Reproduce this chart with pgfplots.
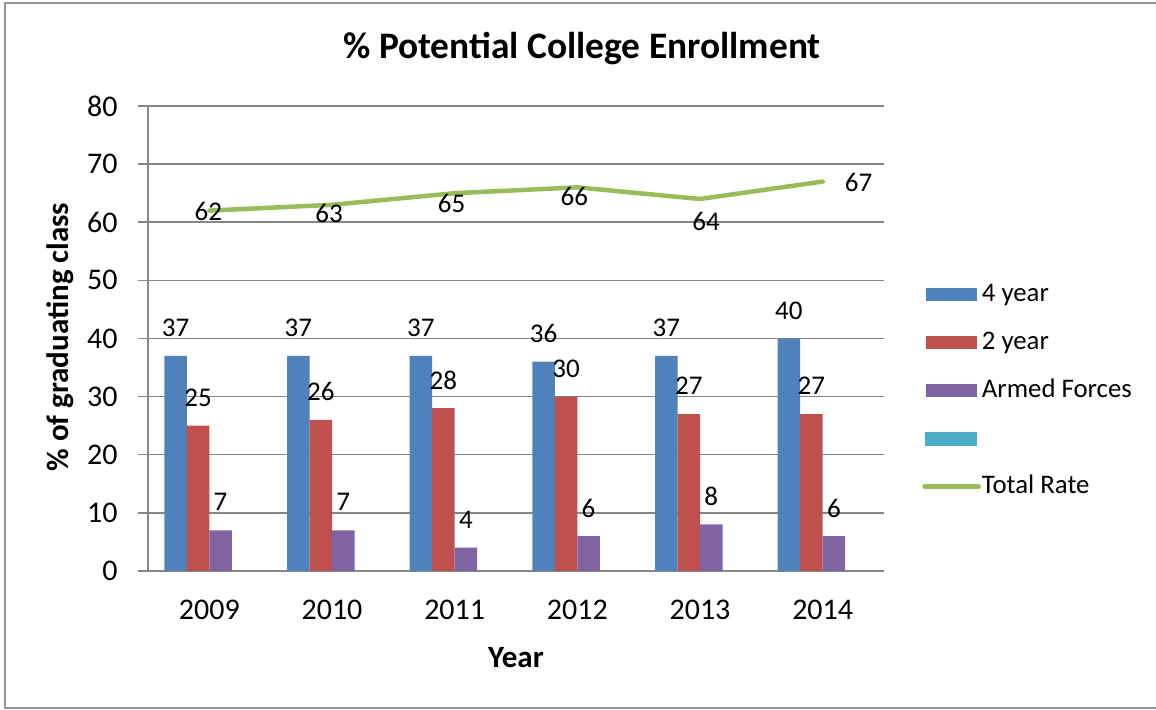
\documentclass[border=0pt]{standalone}
\usepackage{fontspec}
\setmainfont{Carlito}
\usepackage{pgfplots}
\pgfplotsset{compat=1.18}
\definecolor{c4}{HTML}{4F81BD}
\definecolor{c2}{HTML}{C0504D}
\definecolor{cA}{HTML}{8064A2}
\definecolor{cC}{HTML}{4BACC6}
\definecolor{cT}{HTML}{9BBB59}
\definecolor{gridc}{HTML}{868686}
\pgfplotsset{
  barleg/.style={legend image code/.code={\fill[##1] (0pt,-3.25pt) rectangle (25.5pt,3.25pt);}},
  barlab/.style={nodes near coords, every node near coord/.append style={anchor=center, yshift=14pt, text=black, inner sep=0pt, font=\fontsize{13.5}{16}\selectfont}},
}
\begin{document}
\begin{tikzpicture}
\useasboundingbox (0,0) rectangle (578pt,355pt);
\draw[color=gray!85, line width=1pt] (2.35pt,1pt) rectangle (580pt,353.65pt);
\begin{axis}[
  at={(74pt,69.5pt)}, anchor=south west,
  scale only axis, width=368pt, height=232.5pt,
  clip=false,
  xmin=-0.5, xmax=5.5, ymin=0, ymax=80,
  xtick={0,...,5}, xticklabels={2009,2010,2011,2012,2013,2014},
  ytick={0,10,...,80},
  axis x line*=bottom, axis y line*=left,
  axis line style={gridc, line width=0.75pt, -},
  ymajorgrids, grid style={gridc, line width=0.75pt},
  tick align=outside, major tick length=5pt,
  xtick style={draw=none}, ytick style={gridc, line width=0.75pt},
  /pgf/number format/assume math mode=true,
  tick label style={font=\fontsize{15}{18}\selectfont},
  xticklabel style={inner sep=0pt, anchor=north},
  yticklabel style={inner sep=0pt, anchor=east},
  xticklabel shift=9.5pt, yticklabel shift=10pt,
  title={\% Potential College Enrollment},
  title style={at={(axis description cs:0.5897,1.097)}, anchor=center, font=\fontsize{18.7}{22}\selectfont\bfseries},
  xlabel={Year},
  xlabel style={at={(axis description cs:0.5,-0.187)}, anchor=center, font=\fontsize{15.5}{18}\selectfont\bfseries},
  ylabel={\% of graduating class},
  ylabel style={at={(axis description cs:-0.1196,0.503)}, anchor=center, font=\fontsize{15.5}{18}\selectfont\bfseries},
  legend style={draw=none, fill=none, at={(axis description cs:1.0516,0.388)}, anchor=west,
    inner sep=0pt, row sep=11pt, column sep=0.5pt, font=\fontsize{13.4}{15}\selectfont,
    nodes={inner sep=0pt, text height=10pt, text depth=3pt}},
  legend cell align=left,
]
\addplot[ybar, bar width=11.25pt, bar shift=-16.875pt, fill=c4, draw=none, barleg, barlab,
  every node near coord/.append style={xshift=-16.875pt}]
  coordinates {(0,37) (1,37) (2,37) (3,36) (4,37) (5,40)};
\addlegendentry{4 year}
\addplot[ybar, bar width=11.25pt, bar shift=-5.625pt, fill=c2, draw=none, barleg, barlab,
  every node near coord/.append style={xshift=-5.625pt}]
  coordinates {(0,25) (1,26) (2,28) (3,30) (4,27) (5,27)};
\addlegendentry{2 year}
\addplot[ybar, bar width=11.25pt, bar shift=5.625pt, fill=cA, draw=none, barleg, barlab,
  every node near coord/.append style={xshift=5.625pt}]
  coordinates {(0,7) (1,7) (2,4) (3,6) (4,8) (5,6)};
\addlegendentry{Armed Forces}
\addlegendimage{legend image code/.code={\fill[cC] (0pt,-3.25pt) rectangle (25.5pt,3.25pt);}}
\addlegendentry{}
\addplot[cT, line width=2.25pt, line join=round, line cap=round,
  legend image code/.code={\draw[cT, line width=2.25pt, line cap=round] (-0.5pt,0pt) -- (26.5pt,0pt);},
  nodes near coords,
  visualization depends on={\thisrow{dx}\as\dx},
  visualization depends on={\thisrow{dy}\as\dy},
  every node near coord/.append style={anchor=center, xshift=\dx pt, yshift=\dy pt, text=black, inner sep=0pt, font=\fontsize{13.5}{16}\selectfont}]
  table {
x y dx dy
0 62 -0.5 -0.5
1 63 -1.5 -4.5
2 65 -1.5 -5
3 66 -1.5 -4.75
4 64 3 -11
5 67 18 -0.5
};
\addlegendentry{Total Rate}
\end{axis}
\end{tikzpicture}
\end{document}
